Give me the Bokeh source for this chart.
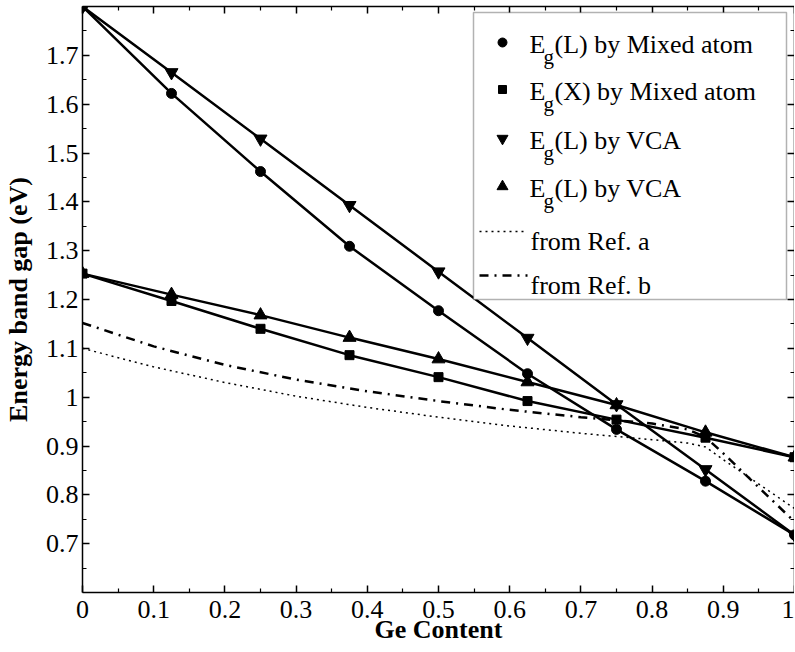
from bokeh.plotting import figure
from bokeh.models import Range1d, FixedTicker, LinearAxis, BoxAnnotation
from bokeh.core.properties import value
from bokeh.embed import file_html
from bokeh.resources import INLINE

# ---------------- data ----------------
ge_content = [0.0, 0.125, 0.25, 0.375, 0.5, 0.625, 0.75, 0.875, 1.0]
eg_L_mixed = [1.800, 1.622, 1.462, 1.309, 1.177, 1.048, 0.934, 0.828, 0.718]
eg_X_mixed = [1.253, 1.197, 1.140, 1.086, 1.041, 0.992, 0.954, 0.917, 0.877]
eg_L_vca_down = [1.800, 1.665, 1.529, 1.393, 1.257, 1.121, 0.985, 0.852, 0.718]
eg_L_vca_up = [1.253, 1.210, 1.168, 1.122, 1.078, 1.031, 0.984, 0.928, 0.877]

ref_x = [0.0, 0.1, 0.2, 0.3, 0.4, 0.5, 0.6, 0.7, 0.8, 0.85, 0.875, 0.9, 0.95, 1.0]
ref_a = [1.100, 1.062, 1.030, 1.002, 0.979, 0.959, 0.941, 0.926, 0.913, 0.906, 0.898, 0.872, 0.822, 0.772]
ref_b = [1.152, 1.104, 1.066, 1.036, 1.012, 0.992, 0.974, 0.959, 0.946, 0.934, 0.918, 0.885, 0.815, 0.745]

x_ticks = [0.0, 0.1, 0.2, 0.3, 0.4, 0.5, 0.6, 0.7, 0.8, 0.9, 1.0]
x_tick_labels = ["0", "0.1", "0.2", "0.3", "0.4", "0.5", "0.6", "0.7", "0.8", "0.9", "1"]
y_ticks = [0.7, 0.8, 0.9, 1.0, 1.1, 1.2, 1.3, 1.4, 1.5, 1.6, 1.7]
y_tick_labels = ["0.7", "0.8", "0.9", "1", "1.1", "1.2", "1.3", "1.4", "1.5", "1.6", "1.7"]

legend_marker_labels = ["(L) by Mixed atom", "(X) by Mixed atom", "(L) by VCA", "(L) by VCA"]
legend_line_labels = ["from Ref. a", "from Ref. b"]

x_label = "Ge Content"
y_label = "Energy band gap (eV)"

FONT = "Liberation Serif"

# ---------------- layout (pixels, relative to the canvas) ----------------
X0, X1 = 0.0, 1.0
Y0, Y1 = 0.6, 1.8
BORDER_LEFT = 82
BORDER_TOP = 6          # + ~1px for the mirrored top axis
FRAME_W = 712
FRAME_H = 586
FRAME_LEFT_PX = BORDER_LEFT
FRAME_TOP_PX = BORDER_TOP + 1
FRAME_BOTTOM_PX = FRAME_TOP_PX + FRAME_H


def px_x(px):
    return X0 + (px - FRAME_LEFT_PX) / FRAME_W * (X1 - X0)


def px_y(py):
    return Y0 + (FRAME_BOTTOM_PX - py) / FRAME_H * (Y1 - Y0)


p = figure(width=795, height=652, frame_width=FRAME_W, frame_height=FRAME_H,
           output_backend="svg", toolbar_location=None,
           x_range=Range1d(X0, X1), y_range=Range1d(Y0, Y1),
           min_border_left=BORDER_LEFT, min_border_right=0, min_border_top=BORDER_TOP,
           min_border_bottom=59,
           x_axis_location=None, y_axis_location=None)
p.grid.visible = False
p.outline_line_color = None
p.background_fill_color = "white"
p.border_fill_color = "white"

x_minor = [round(t + 0.05, 2) for t in x_ticks[:-1]]
y_minor = [0.65] + [round(t + 0.05, 2) for t in y_ticks]
xt = FixedTicker(ticks=x_ticks, minor_ticks=x_minor)
yt = FixedTicker(ticks=y_ticks, minor_ticks=y_minor)


def style_axis(ax):
    ax.axis_line_color = "black"
    ax.axis_line_width = 1.5
    ax.major_tick_in = 7
    ax.major_tick_out = 0
    ax.minor_tick_in = 4
    ax.minor_tick_out = 0
    ax.major_tick_line_width = 1.5
    ax.minor_tick_line_width = 1.2
    ax.major_tick_line_color = "black"
    ax.minor_tick_line_color = "black"
    ax.major_label_text_font = FONT
    ax.major_label_text_font_size = "26px"
    ax.major_label_text_color = "black"
    ax.axis_label_text_font = FONT
    ax.axis_label_text_font_size = "26px"
    ax.axis_label_text_font_style = "bold"
    ax.axis_label_text_color = "black"


xb = LinearAxis(ticker=xt, axis_label=x_label,
                major_label_overrides=dict(zip(x_ticks, x_tick_labels)))
style_axis(xb)
xb.major_label_standoff = 8
xb.axis_label_standoff = -6
p.add_layout(xb, "below")

yl = LinearAxis(ticker=yt, axis_label=y_label,
                major_label_overrides=dict(zip(y_ticks, y_tick_labels)))
style_axis(yl)
yl.major_label_standoff = 4
yl.axis_label_standoff = 10
p.add_layout(yl, "left")

# mirrored tick axes on top and right (no labels)
xa = LinearAxis(ticker=xt, major_label_overrides={t: "" for t in x_ticks})
style_axis(xa)
xa.major_label_text_font_size = "1px"
xa.major_label_standoff = 0
p.add_layout(xa, "above")
yr = LinearAxis(ticker=yt, major_label_overrides={t: "" for t in y_ticks})
style_axis(yr)
yr.major_label_text_font_size = "1px"
yr.major_label_standoff = 0
p.add_layout(yr, "right")

# ---------------- series ----------------
LW = 2.5
series = [eg_L_mixed, eg_X_mixed, eg_L_vca_down, eg_L_vca_up]
markers = ["circle", "square", "inverted_triangle", "triangle"]
plot_sizes = [10, 9, 13, 13]
for ys in series:
    p.line(ge_content, ys, line_color="black", line_width=LW)
for ys, m, s in zip(series, markers, plot_sizes):
    p.scatter(ge_content, ys, marker=m, size=s, color="black")

DOT = dict(line_color="black", line_width=1.5, line_dash="2 4")
DASHDOT = dict(line_color="black", line_width=2.5, line_dash="9 6 2 6")
p.line(ref_x, ref_a, **DOT)
p.line(ref_x, ref_b, **DASHDOT)

# ---------------- legend (drawn by hand for the subscripts) ----------------
box = BoxAnnotation(left=px_x(473), right=px_x(786), top=px_y(13), bottom=px_y(300),
                    fill_color="white", fill_alpha=1.0, line_color="black", line_width=1.5)
p.add_layout(box)

row_y = [43, 90, 139, 187]
legend_sizes = [9, 8, 11, 11]
for i, (m, s) in enumerate(zip(markers, legend_sizes)):
    p.scatter([px_x(502)], [px_y(row_y[i])], marker=m, size=s, color="black", level="overlay")

text_kw = dict(text_font=value(FONT), text_color="black", text_baseline="alphabetic",
               text_align="left", level="overlay")
p.text(x=[px_x(529)] * 4, y=[px_y(yy + 2) for yy in row_y], text=["E"] * 4,
       text_font_size=value("26px"), **text_kw)
p.text(x=[px_x(543)] * 4, y=[px_y(yy + 14) for yy in row_y], text=["g"] * 4,
       text_font_size=value("21px"), **text_kw)
p.text(x=[px_x(554)] * 4, y=[px_y(yy + 2) for yy in row_y], text=legend_marker_labels,
       text_font_size=value("26px"), **text_kw)

line_rows = [232, 276]
for yy, style in zip(line_rows, (DOT, DASHDOT)):
    p.line([px_x(479), px_x(527)], [px_y(yy), px_y(yy)], level="overlay", **style)
p.text(x=[px_x(530)] * 2, y=[px_y(yy + 10) for yy in line_rows], text=legend_line_labels,
       text_font_size=value("26px"), **text_kw)

open("out.html", "w").write(file_html(p, INLINE))
